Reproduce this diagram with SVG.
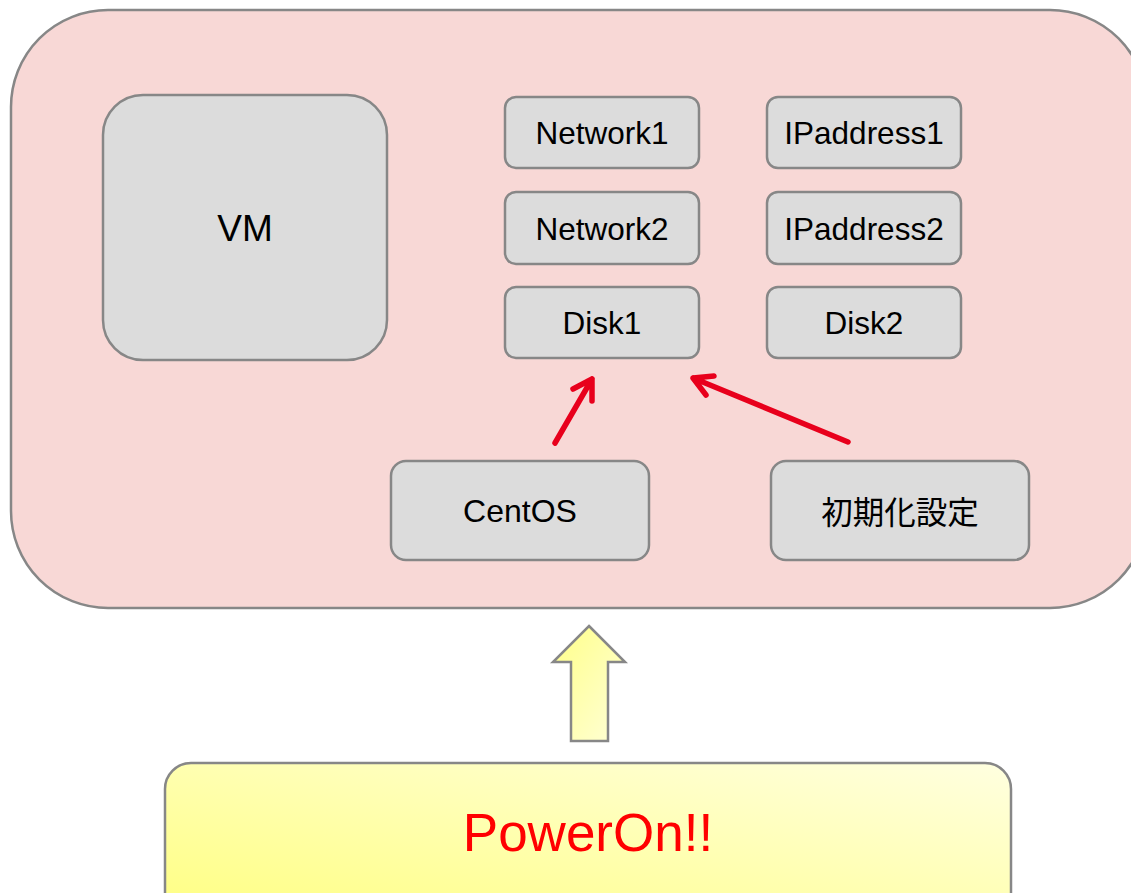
<svg xmlns="http://www.w3.org/2000/svg" width="1131" height="893" viewBox="0 0 1131 893">
<defs>
<style>
.box{fill:#dcdcdc;stroke:#878787;stroke-width:2.5}
.t{font-family:"Liberation Sans",Arial,"Noto Sans CJK JP",sans-serif;font-size:31.5px;fill:#000;text-anchor:middle;dominant-baseline:central}
.red{stroke:#e8001c;stroke-width:5.5;fill:none;stroke-linecap:round;stroke-linejoin:round}
</style>
<linearGradient id="yg" x1="0" y1="1" x2="1" y2="0">
<stop offset="0" stop-color="#ffff80"/>
<stop offset="1" stop-color="#ffffe0"/>
</linearGradient>
<linearGradient id="ag" x1="0" y1="0" x2="1" y2="1">
<stop offset="0" stop-color="#ffff88"/>
<stop offset="1" stop-color="#ffffd8"/>
</linearGradient>
</defs>
<rect width="1131" height="893" fill="#fff"/>
<g id="container">
<rect x="11" y="10" width="1136" height="598" rx="97" ry="97" fill="#f8d8d6" stroke="#878787" stroke-width="2.5"/>
</g>
<g id="vm"><rect class="box" x="103" y="95" width="284" height="265" rx="40"/><text class="t" x="245" y="228" style="font-size:37px">VM</text></g>
<g id="network1"><rect class="box" x="505" y="97" width="194" height="71" rx="11"/><text class="t" x="602" y="133">Network1</text></g>
<g id="network2"><rect class="box" x="505" y="192" width="194" height="72" rx="11"/><text class="t" x="602" y="229">Network2</text></g>
<g id="disk1"><rect class="box" x="505" y="287" width="194" height="71" rx="11"/><text class="t" x="602" y="323">Disk1</text></g>
<g id="ip1"><rect class="box" x="767" y="97" width="194" height="71" rx="11"/><text class="t" x="864" y="133">IPaddress1</text></g>
<g id="ip2"><rect class="box" x="767" y="192" width="194" height="72" rx="11"/><text class="t" x="864" y="229">IPaddress2</text></g>
<g id="disk2"><rect class="box" x="767" y="287" width="194" height="71" rx="11"/><text class="t" x="864" y="323">Disk2</text></g>
<g id="centos"><rect class="box" x="391" y="461" width="258" height="99" rx="15"/><text class="t" x="520" y="511" style="font-size:32px">CentOS</text></g>
<g id="init"><rect class="box" x="771" y="461" width="258" height="99" rx="15"/><text class="t" x="900" y="513">初期化設定</text></g>
<g id="connectors">
<path class="red" d="M555 443 L592 379 M573 389 L592 379 L592 401"/>
<path class="red" d="M848 442 L693 378 M714 376 L693 378 L706 395"/>
<path d="M589 626 L625 662 L608 662 L608 741 L571 741 L571 662 L553 662 Z" fill="url(#ag)" stroke="#878787" stroke-width="2.5" stroke-linejoin="miter"/>
</g>
<g id="poweron">
<rect x="165" y="763" width="846" height="160" rx="26" fill="url(#yg)" stroke="#878787" stroke-width="2.5"/>
<text x="588" y="832" font-family="'Liberation Sans',Arial,sans-serif" font-size="53" fill="#ff0000" text-anchor="middle" dominant-baseline="central">PowerOn!!</text>
</g>
</svg>
